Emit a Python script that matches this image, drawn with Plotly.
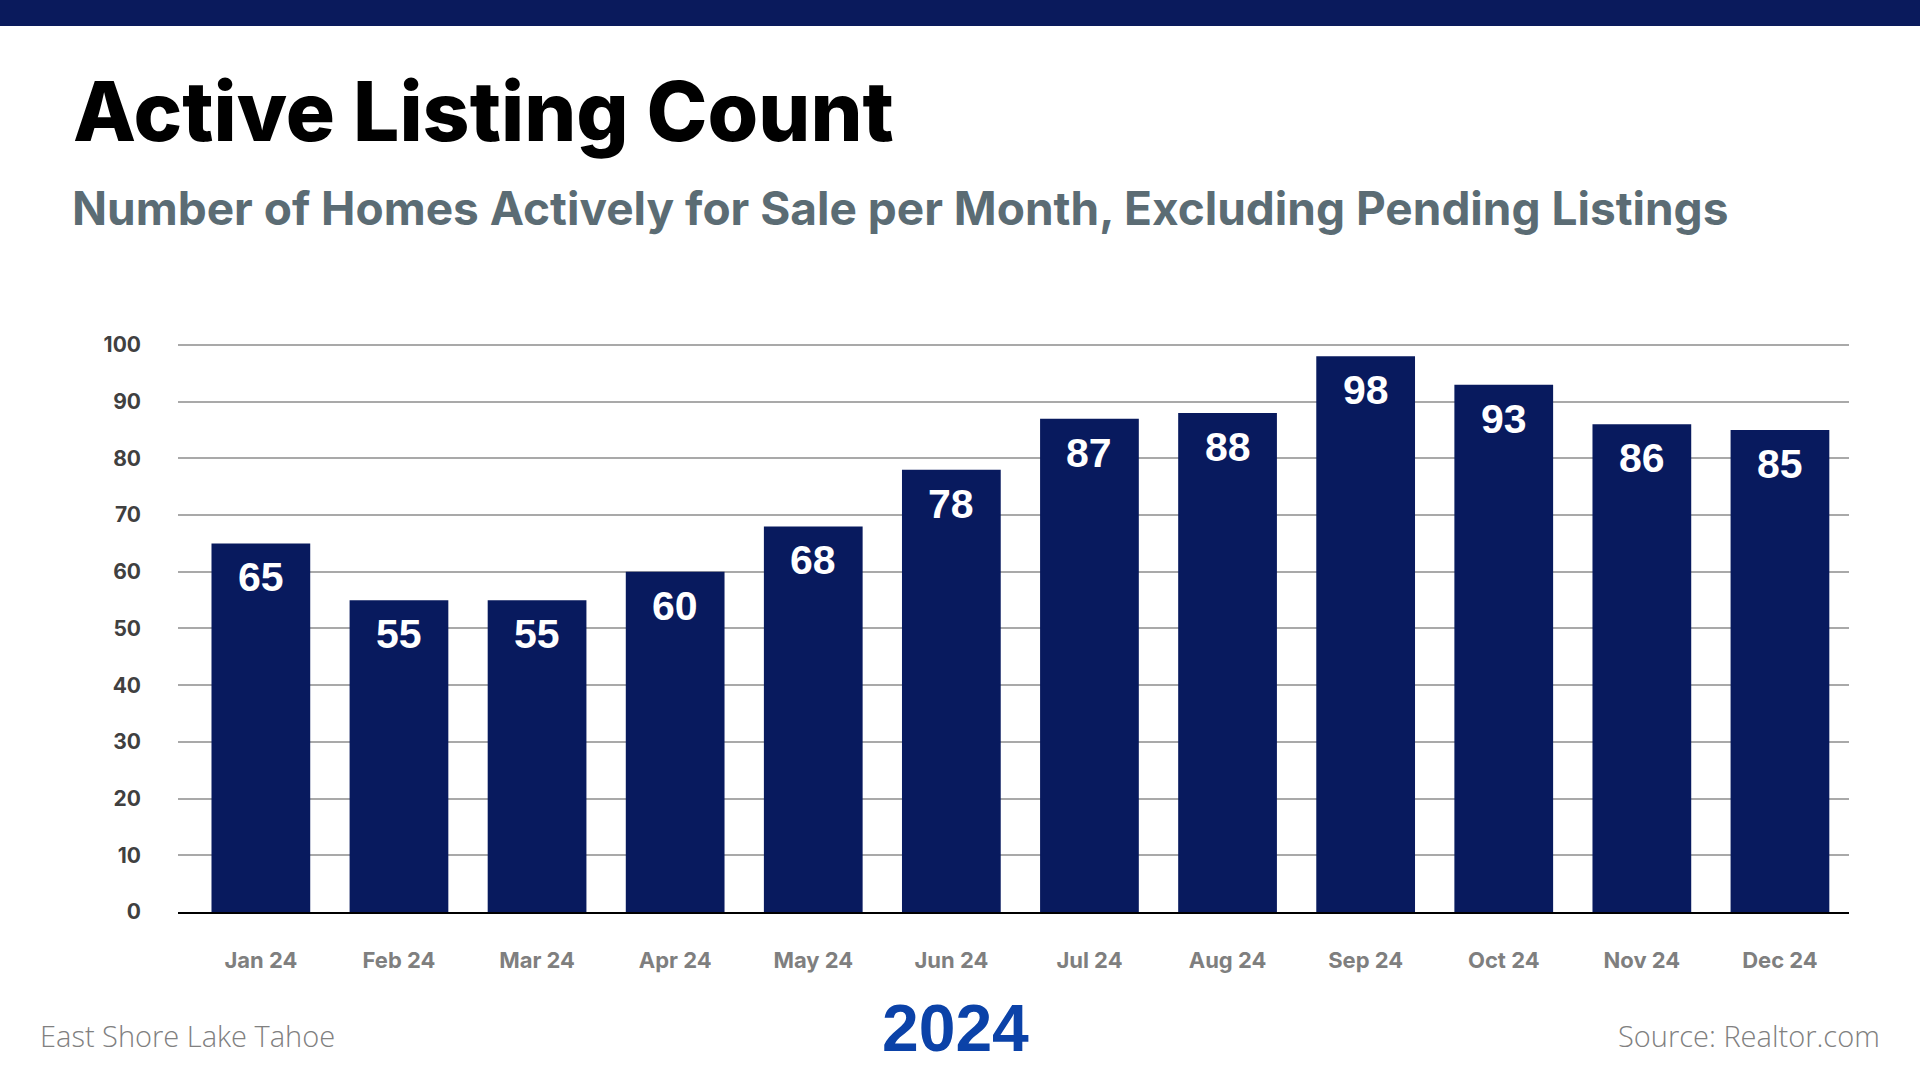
import plotly.graph_objects as go

months = ["Jan 24", "Feb 24", "Mar 24", "Apr 24", "May 24", "Jun 24",
          "Jul 24", "Aug 24", "Sep 24", "Oct 24", "Nov 24", "Dec 24"]
listings = [65, 55, 55, 60, 68, 78, 87, 88, 98, 93, 86, 85]
y_ticks = [0, 10, 20, 30, 40, 50, 60, 70, 80, 90, 100]

title_text = "Active Listing Count"
subtitle_text = "Number of Homes Actively for Sale per Month, Excluding Pending Listings"
left_note = "East Shore Lake Tahoe"
center_note = "2024"
right_note = "Source: Realtor.com"

W, H = 1920, 1080
L, R, T, B = 178, 1849, 343, 912
NAVY = "#081a5e"


def px_x(px):
    return (px - L) / (R - L)


def px_y(py):
    return (B - py) / (B - T)


fig = go.Figure()
fig.add_trace(go.Bar(
    x=months, y=listings, marker=dict(color=NAVY, line=dict(width=0)),
    hoverinfo="x+y",
))

annotations = []
for m, v in zip(months, listings):
    annotations.append(dict(
        x=m, y=v, xref="x", yref="y", text=str(v), showarrow=False,
        yanchor="top", yshift=-9,
        font=dict(family="Liberation Sans, Arial", size=41, color="white", weight=700),
    ))

annotations += [
    dict(xref="paper", yref="paper", x=px_x(71), y=px_y(112), text=title_text,
         showarrow=False, xanchor="left", yanchor="middle",
         font=dict(family="Inter", size=82, color="#000000", weight=800)),
    dict(xref="paper", yref="paper", x=px_x(70), y=px_y(208), text=subtitle_text,
         showarrow=False, xanchor="left", yanchor="middle",
         font=dict(family="Inter", size=46, color="#5b6c74", weight=700)),
    dict(xref="paper", yref="paper", x=px_x(38), y=px_y(1035), text=left_note,
         showarrow=False, xanchor="left", yanchor="middle",
         font=dict(family="Open Sans", size=29, color="#808080", weight=300)),
    dict(xref="paper", yref="paper", x=px_x(955), y=px_y(1028), text=center_note,
         showarrow=False, xanchor="center", yanchor="middle",
         font=dict(family="Liberation Sans, Arial", size=66, color="#0b42a8", weight=700)),
    dict(xref="paper", yref="paper", x=px_x(1882), y=px_y(1035), text=right_note,
         showarrow=False, xanchor="right", yanchor="middle",
         font=dict(family="Open Sans", size=29, color="#808080", weight=300)),
]

fig.update_layout(
    width=W, height=H, autosize=False,
    margin=dict(l=L, r=W - R, t=T, b=H - B, pad=0),
    paper_bgcolor="white", plot_bgcolor="white",
    bargap=0.285, showlegend=False,
    annotations=annotations,
    shapes=[dict(type="rect", xref="paper", yref="paper",
                 x0=px_x(-5), x1=px_x(W + 5), y0=px_y(26), y1=px_y(-5),
                 fillcolor="#0a1a5c", line=dict(width=0), layer="above")],
    xaxis=dict(
        range=[-0.6, 11.5], showgrid=False, zeroline=False,
        showline=True, linecolor="#000000", linewidth=2,
        ticks="", ticklabelstandoff=28,
        tickfont=dict(family="Inter", size=22, color="#7f7f7f", weight=700),
        fixedrange=True,
    ),
    yaxis=dict(
        range=[0, 100.35], tickvals=y_ticks, showgrid=True, gridcolor="#a9a9a9",
        gridwidth=1.5, zeroline=False, showline=False, ticks="",
        ticklabelstandoff=36,
        tickfont=dict(family="Inter", size=21, color="#404040", weight=700),
        fixedrange=True,
    ),
)

fig.write_html(
    "out.html",
    config={"displayModeBar": False},
    post_script="document.body.style.margin='0';document.body.style.overflow='hidden';",
)
